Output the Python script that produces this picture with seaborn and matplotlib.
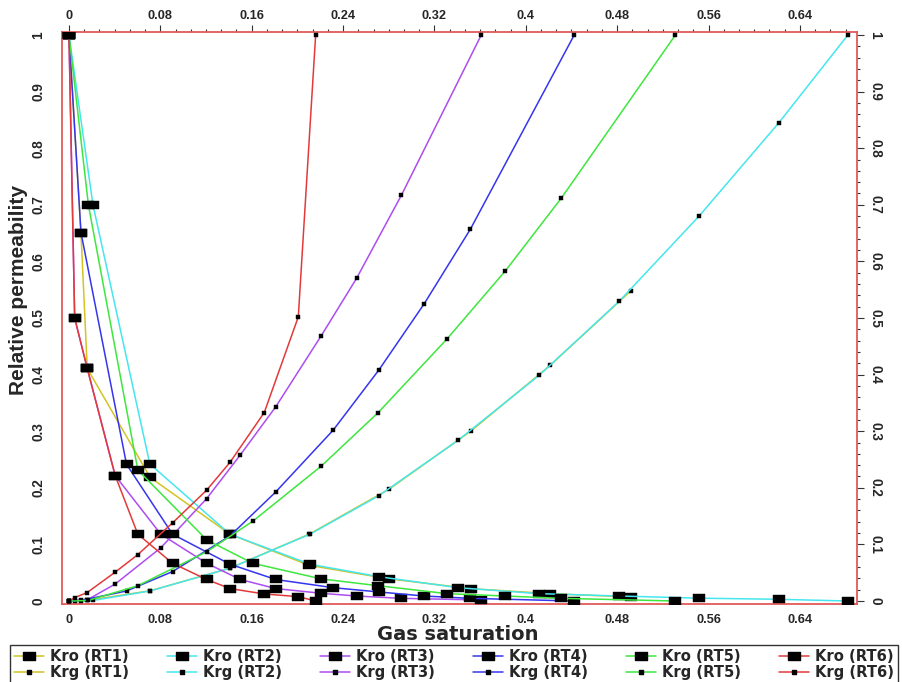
import matplotlib
matplotlib.use("Agg")
import matplotlib.pyplot as plt
from matplotlib.lines import Line2D
from matplotlib.ticker import FixedLocator, MultipleLocator, FuncFormatter
import numpy as np
import pandas as pd
import seaborn as sns

# Rock types and their line colours
rock_types = ["RT1", "RT2", "RT3", "RT4", "RT5", "RT6"]
rt_colors = ["#d2c425", "#45e6ee", "#ad4cf0", "#3535ee", "#3ee63e", "#e23a3a"]

# Gas saturation, oil relative permeability (Kro) and gas relative permeability (Krg)
sg_rt1 = [0, 0.0105, 0.016, 0.071, 0.141, 0.2103, 0.2806, 0.3518, 0.4214, 0.492]
kro_rt1 = [1.0, 0.651, 0.411, 0.2185, 0.118, 0.063, 0.039, 0.0218, 0.013, 0.007]
krg_rt1 = [0, 0.0005, 0.001, 0.018, 0.058, 0.118, 0.198, 0.300, 0.4164, 0.548]

sg_rt2 = [0, 0.021, 0.0708, 0.141, 0.211, 0.2713, 0.3407, 0.4118, 0.482, 0.5517, 0.6216, 0.682]
kro_rt2 = [1.0, 0.70, 0.242, 0.118, 0.065, 0.043, 0.0235, 0.013, 0.0088, 0.005, 0.003, 0.0]
krg_rt2 = [0, 0.001, 0.0177, 0.058, 0.118, 0.186, 0.284, 0.399, 0.530, 0.680, 0.845, 1.0]

sg_rt3 = [0, 0.005, 0.016, 0.0405, 0.0804, 0.1206, 0.150, 0.181, 0.221, 0.2518, 0.2911, 0.361]
kro_rt3 = [1.0, 0.5, 0.411, 0.2214, 0.118, 0.0666, 0.038, 0.022, 0.0136, 0.0088, 0.0047, 0.0018]
krg_rt3 = [0, 0.0005, 0.002, 0.030, 0.094, 0.181, 0.258, 0.343, 0.469, 0.570, 0.717, 1.0]

sg_rt4 = [0, 0.0105, 0.0504, 0.0907, 0.141, 0.181, 0.2314, 0.2713, 0.311, 0.3515, 0.4424]
kro_rt4 = [1.0, 0.651, 0.2415, 0.118, 0.065, 0.038, 0.0235, 0.016, 0.0088, 0.0047, 0.0]
krg_rt4 = [0, 0.001, 0.0177, 0.052, 0.115, 0.1926, 0.302, 0.408, 0.525, 0.657, 1.0]

sg_rt5 = [0, 0.017, 0.0603, 0.1206, 0.161, 0.221, 0.2708, 0.331, 0.382, 0.431, 0.531]
kro_rt5 = [1.0, 0.70, 0.2314, 0.108, 0.0666, 0.039, 0.027, 0.013, 0.0088, 0.0047, 0.0]
krg_rt5 = [0, 0.001, 0.027, 0.087, 0.141, 0.2385, 0.333, 0.463, 0.583, 0.7115, 1.0]

sg_rt6 = [0, 0.005, 0.016, 0.0405, 0.0603, 0.0907, 0.1206, 0.141, 0.171, 0.2008, 0.216]
kro_rt6 = [1.0, 0.5, 0.411, 0.2214, 0.118, 0.0666, 0.038, 0.022, 0.0124, 0.0077, 0.0]
krg_rt6 = [0, 0.006, 0.015, 0.051, 0.082, 0.138, 0.196, 0.245, 0.333, 0.502, 1.0]

x_ticks = [0, 0.08, 0.16, 0.24, 0.32, 0.4, 0.48, 0.56, 0.64]
y_ticks = [0, 0.1, 0.2, 0.3, 0.4, 0.5, 0.6, 0.7, 0.8, 0.9, 1.0]

sg_all = [sg_rt1, sg_rt2, sg_rt3, sg_rt4, sg_rt5, sg_rt6]
kro_all = [kro_rt1, kro_rt2, kro_rt3, kro_rt4, kro_rt5, kro_rt6]
krg_all = [krg_rt1, krg_rt2, krg_rt3, krg_rt4, krg_rt5, krg_rt6]

sns.set_style("white")
plt.rcParams["font.family"] = ["Liberation Sans", "DejaVu Sans"]
plt.rcParams["font.weight"] = "bold"

# wide rectangular point marker
rect = [(-1.0, -0.7), (1.0, -0.7), (1.0, 0.7), (-1.0, 0.7), (-1.0, -0.7)]
spine_red = "#e25a5a"

fig = plt.figure(figsize=(9.02, 6.82), dpi=100)
ax = fig.add_axes([62 / 902, 1 - 604 / 682, (857 - 62) / 902, (604 - 32) / 682])

handles = []
for rt, col, sg, kro, krg in zip(rock_types, rt_colors, sg_all, kro_all, krg_all):
    df = pd.DataFrame({"Sg": sg, "Kro": kro, "Krg": krg})
    sns.lineplot(data=df, x="Sg", y="Kro", sort=False, estimator=None, ax=ax,
                 color=col, linewidth=1.1, marker=rect, markersize=8.4,
                 markerfacecolor="black", markeredgecolor="black",
                 markeredgewidth=0.3, legend=False, zorder=3)
    sns.lineplot(data=df, x="Sg", y="Krg", sort=False, estimator=None, ax=ax,
                 color=col, linewidth=1.1, marker=rect, markersize=3.4,
                 markerfacecolor="black", markeredgecolor="black",
                 markeredgewidth=0.3, legend=False, zorder=3)
    handles.append(Line2D([], [], color=col, linewidth=1.1, marker=rect,
                          markersize=8.0, markerfacecolor="black",
                          markeredgecolor="black", label=f"Kro ({rt})"))
    handles.append(Line2D([], [], color=col, linewidth=1.1, marker=rect,
                          markersize=3.4, markerfacecolor="black",
                          markeredgecolor="black", label=f"Krg ({rt})"))

ax.set_xlim(-0.0061, 0.690)
ax.set_ylim(-0.0053, 1.0053)

ax.xaxis.set_major_locator(FixedLocator(x_ticks))
ax.xaxis.set_minor_locator(MultipleLocator(0.08 / 6))
ax.yaxis.set_major_locator(FixedLocator(y_ticks))
ax.yaxis.set_minor_locator(MultipleLocator(0.02))
fmt = FuncFormatter(lambda v, p: f"{v:g}")
ax.xaxis.set_major_formatter(fmt)
ax.yaxis.set_major_formatter(fmt)

ax.tick_params(which="both", direction="out", top=True, right=True,
               labeltop=True, labelright=True, color="#333333", width=0.8)
ax.tick_params(which="major", length=5)
ax.tick_params(which="minor", length=2.5)
ax.tick_params(axis="x", which="major", pad=2.5, labelsize=9.2)
ax.tick_params(axis="y", which="major", labelsize=9.8)

for s in ax.spines.values():
    s.set_color(spine_red)
    s.set_linewidth(1.3)

ax.set_xlabel("Gas saturation", fontsize=14, fontweight="bold",
              family="DejaVu Sans")
ax.xaxis.set_label_coords(0.498, -0.037)
ax.set_ylabel("Relative permeability", fontsize=15, fontweight="bold")
ax.yaxis.set_label_coords(-0.043, 0.549)

fig.canvas.draw()
for t in ax.yaxis.get_major_ticks():
    t.label1.set_rotation(90)
    t.label1.set_va("center")
    t.label2.set_rotation(-90)
    t.label2.set_va("center")
    t.set_pad(3)
for t in ax.yaxis.get_major_ticks():
    t.label1.set_x(-0.007)

leg = fig.legend(handles=handles, ncol=6, loc="upper left",
                 bbox_to_anchor=(0.011, -0.06, 0.9845, 1 - 645 / 682 + 0.06),
                 mode="expand", borderaxespad=0, frameon=True, fancybox=False,
                 edgecolor="black", handlelength=2.0, handletextpad=0.4,
                 labelspacing=0.05, borderpad=0.3,
                 prop={"family": "DejaVu Sans", "weight": "bold", "size": 10.6})
leg.get_frame().set_linewidth(1.0)

fig.savefig("out.png", dpi=100, facecolor="white")
